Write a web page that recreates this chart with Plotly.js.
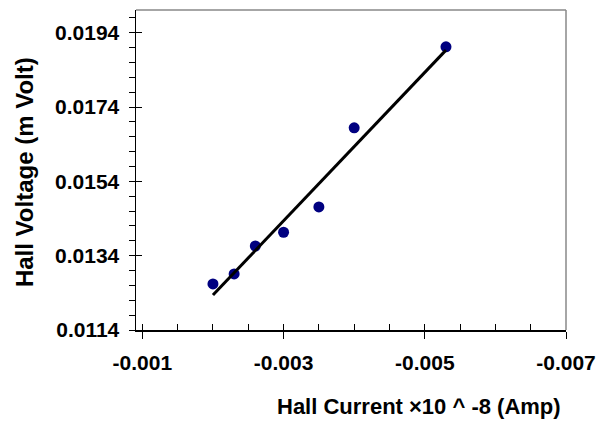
<!DOCTYPE html>
<html>
<head>
<meta charset="utf-8">
<script src="https://cdn.plot.ly/plotly-3.0.1.min.js"></script>
<style>html,body{margin:0;padding:0;background:#fff;}#chart{width:610px;height:421px;}</style>
</head>
<body>
<div id="chart"></div>
<script>
// Data
const hallCurrent = [-0.0020, -0.0023, -0.0026, -0.0030, -0.0035, -0.0040, -0.0053];
const hallVoltage = [0.01264, 0.01291, 0.01366, 0.01403, 0.01471, 0.01684, 0.01902];
const fitCurrent = [-0.0020, -0.0053];
const fitVoltage = [0.01234, 0.01893];
const xTickVals = [-0.001, -0.003, -0.005, -0.007];
const xTickText = ['-0.001', '-0.003', '-0.005', '-0.007'];
const yTickVals = [0.0114, 0.0134, 0.0154, 0.0174, 0.0194];
const yTickText = ['0.0114', '0.0134', '0.0154', '0.0174', '0.0194'];
const xTitle = 'Hall Current \u00d710 ^ -8 (Amp)';
const yTitle = 'Hall Voltage (m Volt)';

const fontFam = 'Arial, "Liberation Sans", sans-serif';
const xRange = [-0.00091, -0.007];
const yRange = [0.0114, 0.02001];

const traces = [
  {x: hallCurrent, y: hallVoltage, type: 'scatter', mode: 'markers',
   marker: {color: '#000080', size: 11}, showlegend: false},
  {x: fitCurrent, y: fitVoltage, type: 'scatter', mode: 'lines',
   line: {color: '#000000', width: 3}, showlegend: false}
];

const layout = {
  width: 610, height: 421,
  margin: {l: 136, r: 44, t: 10, b: 91},
  paper_bgcolor: '#ffffff', plot_bgcolor: '#ffffff',
  font: {family: fontFam, color: '#000', size: 20, weight: 'bold'},
  showlegend: false,
  xaxis: {
    range: xRange, showgrid: false, zeroline: false,
    showline: true, linecolor: '#000', linewidth: 1.5,
    tickvals: xTickVals, ticktext: xTickText,
    ticks: 'outside', ticklen: 7, tickwidth: 1, tickcolor: '#000',
    ticklabelstandoff: 6,
    tickfont: {family: fontFam, size: 21, color: '#000', weight: 'bold'}
  },
  xaxis2: {
    overlaying: 'x', anchor: 'y', side: 'bottom', range: xRange,
    showgrid: false, zeroline: false, showline: false,
    tick0: -0.001, dtick: 0.0005, ticks: 'inside', ticklen: 6, tickwidth: 1, tickcolor: '#000',
    showticklabels: false
  },
  yaxis: {
    range: yRange, showgrid: false, zeroline: false,
    showline: true, linecolor: '#000', linewidth: 1.5,
    tickvals: yTickVals, ticktext: yTickText,
    ticks: 'outside', ticklen: 6, tickwidth: 1, tickcolor: '#000',
    minor: {tick0: 0.0114, dtick: 0.0004, ticks: 'outside', ticklen: 6, tickwidth: 1, tickcolor: '#000', showgrid: false},
    ticklabelstandoff: 5,
    tickfont: {family: fontFam, size: 21, color: '#000', weight: 'bold'}
  },
  yaxis2: {
    overlaying: 'y', anchor: 'x', side: 'left', range: yRange,
    showgrid: false, zeroline: false, showline: false,
    tickvals: yTickVals, ticks: 'inside', ticklen: 6, tickwidth: 1, tickcolor: '#000',
    showticklabels: false
  },
  shapes: [
    {type: 'line', xref: 'paper', yref: 'paper', x0: 0, x1: 1, y0: 1, y1: 1, line: {color: '#888888', width: 1.5}},
    {type: 'line', xref: 'paper', yref: 'paper', x0: 1, x1: 1, y0: 0, y1: 1, line: {color: '#888888', width: 1.5}}
  ],
  annotations: [
    {text: xTitle, xref: 'paper', yref: 'paper', x: 0.657, y: -0.2375, xanchor: 'center', yanchor: 'middle',
     showarrow: false, font: {family: fontFam, size: 22, color: '#000', weight: 'bold'}},
    {text: yTitle, xref: 'paper', yref: 'paper', x: -0.2593, y: 0.492, xanchor: 'center', yanchor: 'middle',
     textangle: -90, showarrow: false, font: {family: fontFam, size: 24, color: '#000', weight: 'bold'}}
  ]
};

// invisible trace to activate the overlay axes that carry the extra ticks
traces.push({x: [xRange[0]], y: [yRange[0]], xaxis: 'x2', yaxis: 'y2', mode: 'markers', marker: {opacity: 0}, showlegend: false, hoverinfo: 'skip'});

Plotly.newPlot('chart', traces, layout, {displayModeBar: false, staticPlot: true});
</script>
</body>
</html>
